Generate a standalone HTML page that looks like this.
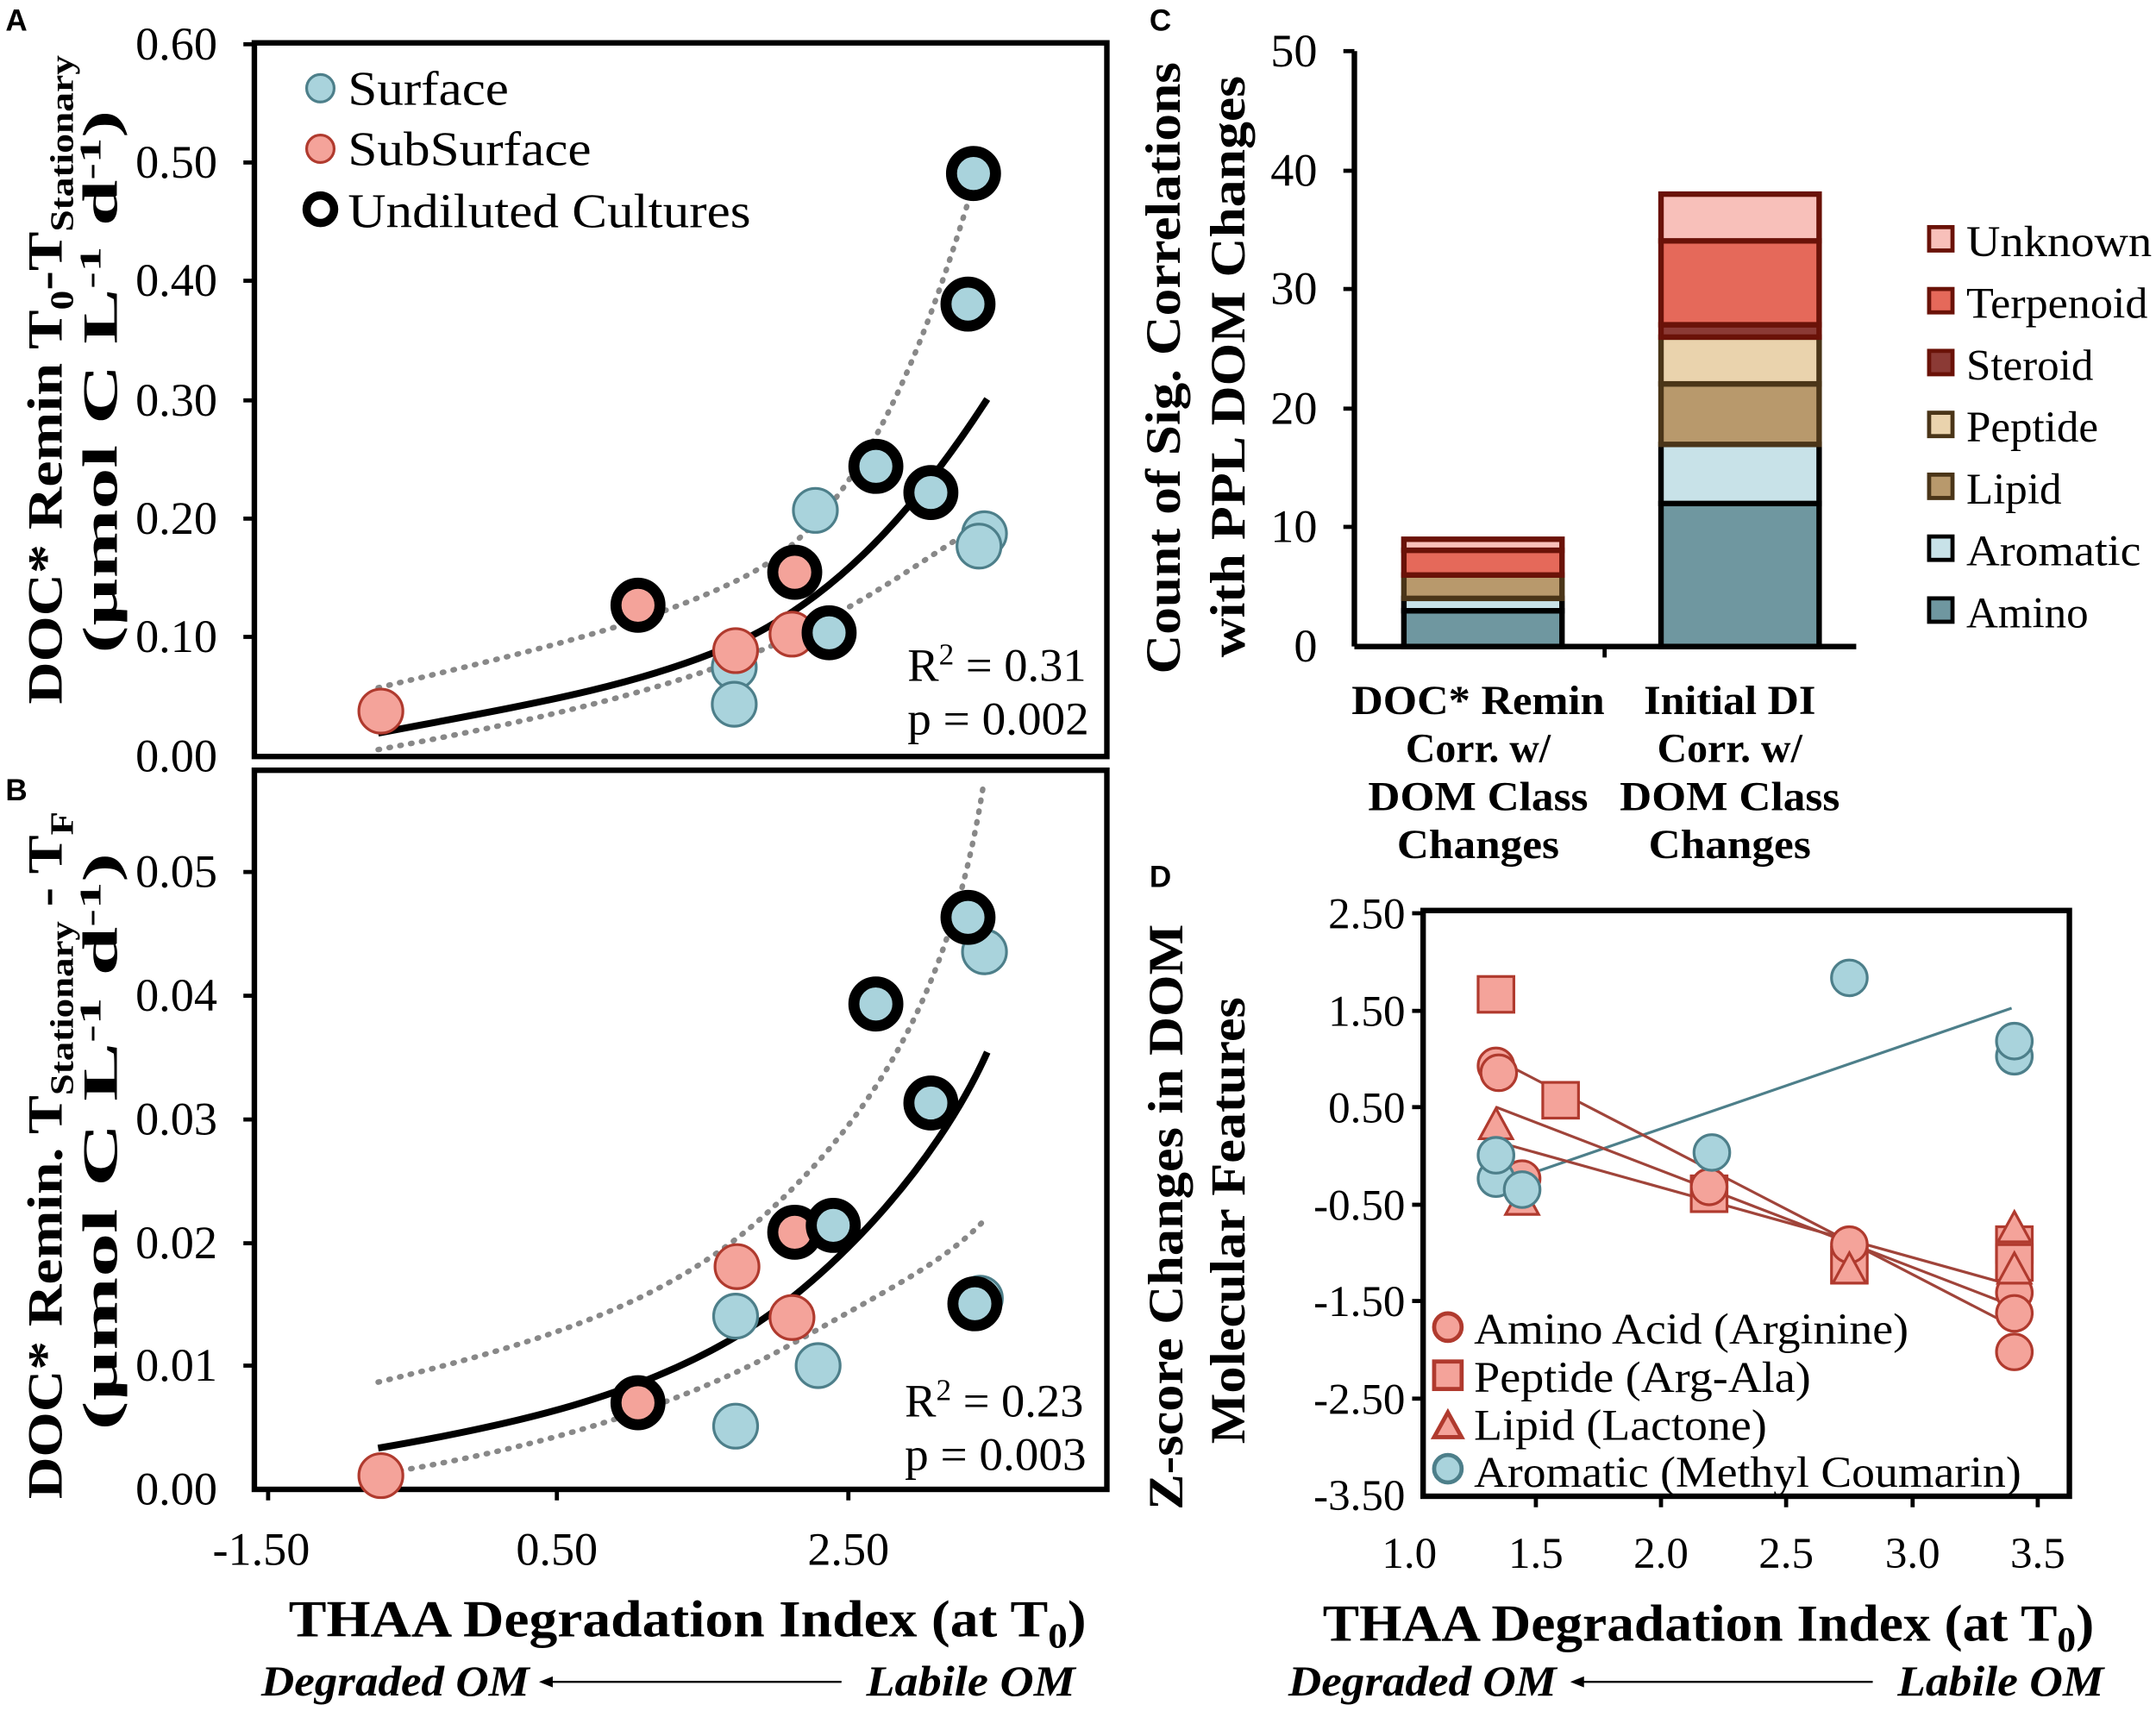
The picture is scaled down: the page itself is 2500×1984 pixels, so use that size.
<!DOCTYPE html>
<html><head><meta charset="utf-8"><style>html,body{margin:0;padding:0;background:#fff}svg{display:block}</style></head><body>
<svg width="2500" height="1984" viewBox="0 0 1568 1244" xmlns="http://www.w3.org/2000/svg" font-family="Liberation Serif, serif">
<rect width="1568" height="1244" fill="#fff"/>
<g font-family="Liberation Sans, sans-serif" font-weight="bold" font-size="22">
<text x="4" y="22">A</text><text x="4" y="582">B</text><text x="836" y="22">C</text><text x="836" y="645">D</text></g>

<rect x="185" y="31" width="620" height="519" fill="none" stroke="#000" stroke-width="4"/>
<rect x="185" y="560" width="620" height="523" fill="none" stroke="#000" stroke-width="4"/>
<g font-size="34" text-anchor="end">
<text x="158" y="43">0.60</text><text x="158" y="129">0.50</text><text x="158" y="215">0.40</text><text x="158" y="302">0.30</text><text x="158" y="388">0.20</text><text x="158" y="474">0.10</text><text x="158" y="561">0.00</text>
<text x="158" y="645">0.05</text><text x="158" y="735">0.04</text><text x="158" y="825">0.03</text><text x="158" y="915">0.02</text><text x="158" y="1004">0.01</text><text x="158" y="1094">0.00</text>
</g>
<g stroke="#000" stroke-width="3">
<line x1="177" y1="32" x2="185" y2="32"/><line x1="177" y1="118" x2="185" y2="118"/><line x1="177" y1="204" x2="185" y2="204"/><line x1="177" y1="291" x2="185" y2="291"/><line x1="177" y1="377" x2="185" y2="377"/><line x1="177" y1="463" x2="185" y2="463"/>
<line x1="177" y1="634" x2="185" y2="634"/><line x1="177" y1="724" x2="185" y2="724"/><line x1="177" y1="814" x2="185" y2="814"/><line x1="177" y1="904" x2="185" y2="904"/><line x1="177" y1="993" x2="185" y2="993"/>
<line x1="195" y1="1083" x2="195" y2="1091"/><line x1="405" y1="1083" x2="405" y2="1091"/><line x1="617" y1="1083" x2="617" y2="1091"/>
</g>
<g font-size="34" text-anchor="middle"><text x="190" y="1138">-1.50</text><text x="405" y="1138">0.50</text><text x="617" y="1138">2.50</text></g>
<text x="210" y="1190" font-size="38" font-weight="bold" textLength="580" lengthAdjust="spacingAndGlyphs">THAA Degradation Index (at T<tspan font-size="26" dy="8">0</tspan><tspan dy="-8">)</tspan></text>
<g font-size="31" font-weight="bold" font-style="italic"><text x="190" y="1233" textLength="195" lengthAdjust="spacingAndGlyphs">Degraded OM</text><text x="630" y="1233" textLength="152" lengthAdjust="spacingAndGlyphs">Labile OM</text></g>
<line x1="400" y1="1223" x2="612" y2="1223" stroke="#000" stroke-width="1.5"/><path d="M392 1223 l10 -4 v8z"/>

<g font-size="36" font-weight="bold">
<text transform="translate(45,512) rotate(-90)" textLength="472" lengthAdjust="spacingAndGlyphs">DOC* Remin T<tspan font-size="24" dy="8">0</tspan><tspan dy="-8">-T</tspan><tspan font-size="24" dy="8">Stationary</tspan></text>
<text transform="translate(85,475) rotate(-90)" textLength="395" lengthAdjust="spacingAndGlyphs">(µmol C L<tspan font-size="22" dy="-12">-1</tspan><tspan dy="12"> d</tspan><tspan font-size="22" dy="-12">-1</tspan><tspan dy="12">)</tspan></text>
<text transform="translate(45,1090) rotate(-90)" textLength="500" lengthAdjust="spacingAndGlyphs">DOC* Remin. T<tspan font-size="24" dy="8">Stationary</tspan><tspan dy="-8"> - T</tspan><tspan font-size="24" dy="8">F</tspan></text>
<text transform="translate(85,1040) rotate(-90)" textLength="420" lengthAdjust="spacingAndGlyphs">(µmol C L<tspan font-size="22" dy="-12">-1</tspan><tspan dy="12"> d</tspan><tspan font-size="22" dy="-12">-1</tspan><tspan dy="12">)</tspan></text>
</g>

<g fill="none" stroke="#888" stroke-width="4" stroke-dasharray="1 7" stroke-linecap="round">
<path d="M275 500 C380 475 470 455 540 420 S660 300 712 120"/>
<path d="M275 545 C400 522 490 500 560 470 S680 400 716 380"/>
<path d="M275 1005 C400 975 490 945 560 880 S690 730 715 572"/>
<path d="M275 1072 C400 1052 500 1020 580 975 S690 915 718 885"/>
</g>
<path d="M275 533 C380 513 460 500 530 470 S660 380 718 290" fill="none" stroke="#000" stroke-width="5"/>
<path d="M275 1053 C380 1035 460 1015 530 975 S680 850 718 765" fill="none" stroke="#000" stroke-width="5"/>

<g fill="#a9d3dc" stroke="#4d7f8a" stroke-width="2">
<circle cx="534" cy="485" r="16"/><circle cx="534" cy="512" r="16"/><circle cx="593" cy="371" r="16"/><circle cx="716" cy="388" r="16"/><circle cx="712" cy="397" r="16"/>
<circle cx="535" cy="957" r="16"/><circle cx="535" cy="1037" r="16"/><circle cx="595" cy="993" r="16"/><circle cx="716" cy="692" r="16"/><circle cx="713" cy="944" r="16"/>
</g>
<g fill="#f4a39a" stroke="#b03a2e" stroke-width="2">
<circle cx="277" cy="517" r="16"/><circle cx="535" cy="473" r="16"/><circle cx="576" cy="461" r="16"/>
<circle cx="277" cy="1073" r="16"/><circle cx="536" cy="921" r="16"/><circle cx="576" cy="958" r="16"/>
</g>
<g stroke="#000" stroke-width="8">
<circle cx="464" cy="440" r="16" fill="#f4a39a"/><circle cx="578" cy="416" r="16" fill="#f4a39a"/>
<circle cx="708" cy="126" r="16" fill="#a9d3dc"/><circle cx="704" cy="221" r="16" fill="#a9d3dc"/><circle cx="637" cy="339" r="16" fill="#a9d3dc"/><circle cx="677" cy="358" r="16" fill="#a9d3dc"/><circle cx="603" cy="460" r="16" fill="#a9d3dc"/>
<circle cx="464" cy="1020" r="16" fill="#f4a39a"/><circle cx="578" cy="896" r="16" fill="#f4a39a"/>
<circle cx="606" cy="891" r="16" fill="#a9d3dc"/><circle cx="637" cy="730" r="16" fill="#a9d3dc"/><circle cx="677" cy="802" r="16" fill="#a9d3dc"/><circle cx="704" cy="667" r="16" fill="#a9d3dc"/><circle cx="709" cy="948" r="16" fill="#a9d3dc"/>
</g>
<circle cx="233" cy="64" r="10" fill="#a9d3dc" stroke="#4d7f8a" stroke-width="2"/>
<circle cx="233" cy="108" r="10" fill="#f4a39a" stroke="#b03a2e" stroke-width="2"/>
<circle cx="233" cy="152" r="10" fill="#fff" stroke="#000" stroke-width="6"/>
<g font-size="35"><text x="253" y="76" textLength="117" lengthAdjust="spacingAndGlyphs">Surface</text><text x="253" y="120" textLength="177" lengthAdjust="spacingAndGlyphs">SubSurface</text><text x="253" y="165" textLength="293" lengthAdjust="spacingAndGlyphs">Undiluted Cultures</text></g>
<g font-size="34"><text x="660" y="495" textLength="130" lengthAdjust="spacingAndGlyphs">R<tspan font-size="22" dy="-12">2</tspan><tspan dy="12"> = 0.31</tspan></text><text x="660" y="534" textLength="132" lengthAdjust="spacingAndGlyphs">p = 0.002</text>
<text x="658" y="1030" textLength="130" lengthAdjust="spacingAndGlyphs">R<tspan font-size="22" dy="-12">2</tspan><tspan dy="12"> = 0.23</tspan></text><text x="658" y="1069" textLength="132" lengthAdjust="spacingAndGlyphs">p = 0.003</text></g>

<!-- Panel C -->
<g stroke="#000" stroke-width="4"><line x1="985" y1="37" x2="985" y2="470"/><line x1="985" y1="470" x2="1350" y2="470"/></g>
<g stroke="#000" stroke-width="3">
<line x1="977" y1="37" x2="985" y2="37"/><line x1="977" y1="124" x2="985" y2="124"/><line x1="977" y1="210" x2="985" y2="210"/><line x1="977" y1="297" x2="985" y2="297"/><line x1="977" y1="383" x2="985" y2="383"/><line x1="1167" y1="470" x2="1167" y2="478"/></g>
<g font-size="34" text-anchor="end"><text x="958" y="48">50</text><text x="958" y="135">40</text><text x="958" y="221">30</text><text x="958" y="308">20</text><text x="958" y="394">10</text><text x="958" y="481">0</text></g>
<g font-size="36" font-weight="bold"><text transform="translate(858,490) rotate(-90)" textLength="445" lengthAdjust="spacingAndGlyphs">Count of Sig. Correlations</text><text transform="translate(905,478) rotate(-90)" textLength="423" lengthAdjust="spacingAndGlyphs">with PPL DOM Changes</text></g>
<g stroke-width="4">
<rect x="1021" y="444" width="115" height="26" fill="#6f97a0" stroke="#000"/>
<rect x="1021" y="435" width="115" height="9" fill="#c8e2e8" stroke="#000"/>
<rect x="1021" y="418" width="115" height="17" fill="#b8996c" stroke="#4a3518"/>
<rect x="1021" y="400" width="115" height="18" fill="#e5695a" stroke="#6a1208"/>
<rect x="1021" y="392" width="115" height="8" fill="#f8c0ba" stroke="#6a1208"/>
<rect x="1208" y="366" width="115" height="104" fill="#6f97a0" stroke="#000"/>
<rect x="1208" y="323" width="115" height="43" fill="#c8e2e8" stroke="#000"/>
<rect x="1208" y="279" width="115" height="44" fill="#b8996c" stroke="#4a3518"/>
<rect x="1208" y="245" width="115" height="34" fill="#ead3ad" stroke="#4a3518"/>
<rect x="1208" y="236" width="115" height="9" fill="#8b3a35" stroke="#6a1208"/>
<rect x="1208" y="175" width="115" height="61" fill="#e5695a" stroke="#6a1208"/>
<rect x="1208" y="141" width="115" height="34" fill="#f8c0ba" stroke="#6a1208"/>
</g>
<g font-size="30" font-weight="bold" text-anchor="middle">
<text x="1075" y="519" textLength="184" lengthAdjust="spacingAndGlyphs">DOC* Remin</text><text x="1075" y="554">Corr. w/</text><text x="1075" y="589" textLength="160" lengthAdjust="spacingAndGlyphs">DOM Class</text><text x="1075" y="624" textLength="118" lengthAdjust="spacingAndGlyphs">Changes</text>
<text x="1258" y="519" textLength="125" lengthAdjust="spacingAndGlyphs">Initial DI</text><text x="1258" y="554">Corr. w/</text><text x="1258" y="589" textLength="160" lengthAdjust="spacingAndGlyphs">DOM Class</text><text x="1258" y="624" textLength="118" lengthAdjust="spacingAndGlyphs">Changes</text></g>
<g stroke-width="3">
<rect x="1403" y="165" width="17" height="17" fill="#f8c0ba" stroke="#6a1208"/>
<rect x="1403" y="210" width="17" height="17" fill="#e5695a" stroke="#6a1208"/>
<rect x="1403" y="255" width="17" height="17" fill="#8b3a35" stroke="#6a1208"/>
<rect x="1403" y="300" width="17" height="17" fill="#ead3ad" stroke="#4a3518"/>
<rect x="1403" y="345" width="17" height="17" fill="#b8996c" stroke="#4a3518"/>
<rect x="1403" y="390" width="17" height="17" fill="#c8e2e8" stroke="#000"/>
<rect x="1403" y="435" width="17" height="17" fill="#6f97a0" stroke="#000"/></g>
<g font-size="32"><text x="1430" y="186" textLength="135" lengthAdjust="spacingAndGlyphs">Unknown</text><text x="1430" y="231" textLength="132" lengthAdjust="spacingAndGlyphs">Terpenoid</text><text x="1430" y="276">Steroid</text><text x="1430" y="321">Peptide</text><text x="1430" y="366">Lipid</text><text x="1430" y="411" textLength="127" lengthAdjust="spacingAndGlyphs">Aromatic</text><text x="1430" y="456">Amino</text></g>

<!-- Panel D -->
<rect x="1035" y="662" width="470" height="426" fill="none" stroke="#000" stroke-width="4"/>
<g font-size="32" text-anchor="end"><text x="1022" y="675">2.50</text><text x="1022" y="746">1.50</text><text x="1022" y="816">0.50</text><text x="1022" y="887">-0.50</text><text x="1022" y="957">-1.50</text><text x="1022" y="1028">-2.50</text><text x="1022" y="1098">-3.50</text></g>
<g stroke="#000" stroke-width="3">
<line x1="1027" y1="664" x2="1035" y2="664"/><line x1="1027" y1="735" x2="1035" y2="735"/><line x1="1027" y1="805" x2="1035" y2="805"/><line x1="1027" y1="876" x2="1035" y2="876"/><line x1="1027" y1="946" x2="1035" y2="946"/><line x1="1027" y1="1017" x2="1035" y2="1017"/>
<line x1="1117" y1="1088" x2="1117" y2="1096"/><line x1="1208" y1="1088" x2="1208" y2="1096"/><line x1="1299" y1="1088" x2="1299" y2="1096"/><line x1="1391" y1="1088" x2="1391" y2="1096"/><line x1="1482" y1="1088" x2="1482" y2="1096"/></g>
<g font-size="32" text-anchor="middle"><text x="1025" y="1140">1.0</text><text x="1117" y="1140">1.5</text><text x="1208" y="1140">2.0</text><text x="1299" y="1140">2.5</text><text x="1391" y="1140">3.0</text><text x="1482" y="1140">3.5</text></g>
<text x="962" y="1193" font-size="38" font-weight="bold" textLength="561" lengthAdjust="spacingAndGlyphs">THAA Degradation Index (at T<tspan font-size="26" dy="8">0</tspan><tspan dy="-8">)</tspan></text>
<g font-size="31" font-weight="bold" font-style="italic"><text x="937" y="1233" textLength="195" lengthAdjust="spacingAndGlyphs">Degraded OM</text><text x="1380" y="1233" textLength="150" lengthAdjust="spacingAndGlyphs">Labile OM</text></g>
<line x1="1150" y1="1223" x2="1362" y2="1223" stroke="#000" stroke-width="1.5"/><path d="M1142 1223 l10 -4 v8z"/>
<g font-size="36" font-weight="bold"><text transform="translate(860,1098) rotate(-90)" textLength="426" lengthAdjust="spacingAndGlyphs">Z-score Changes in DOM</text><text transform="translate(905,1050) rotate(-90)" textLength="325" lengthAdjust="spacingAndGlyphs">Molecular Features</text></g>
<g stroke-width="2">
<line x1="1088" y1="862" x2="1463" y2="733" stroke="#4d7f8a"/>
<line x1="1088" y1="770" x2="1465" y2="965" stroke="#a0443a"/>
<line x1="1088" y1="805" x2="1465" y2="950" stroke="#a0443a"/>
<line x1="1088" y1="830" x2="1465" y2="935" stroke="#a0443a"/></g>
<g fill="#f4a39a" stroke="#b03a2e" stroke-width="2">
<rect x="1075" y="710" width="26" height="26"/><rect x="1122" y="787" width="26" height="26"/><rect x="1230" y="855" width="26" height="26"/><rect x="1332" y="907" width="26" height="26"/><rect x="1452" y="892" width="26" height="26"/><rect x="1452" y="905" width="26" height="26"/>
<circle cx="1088" cy="775" r="13"/><circle cx="1090" cy="780" r="13"/><circle cx="1107" cy="857" r="13"/><circle cx="1243" cy="863" r="13"/><circle cx="1345" cy="905" r="13"/><circle cx="1465" cy="940" r="13"/><circle cx="1465" cy="955" r="13"/><circle cx="1465" cy="983" r="13"/>
<path d="M1088 806 l12 22 h-24z"/><path d="M1107 861 l12 22 h-24z"/><path d="M1345 911 l12 22 h-24z"/><path d="M1465 881 l12 22 h-24z"/><path d="M1465 911 l12 22 h-24z"/>
</g>
<g fill="#a9d3dc" stroke="#4d7f8a" stroke-width="2">
<circle cx="1088" cy="857" r="13"/><circle cx="1088" cy="840" r="13"/><circle cx="1107" cy="865" r="13"/><circle cx="1245" cy="838" r="13"/><circle cx="1345" cy="711" r="13"/><circle cx="1465" cy="768" r="13"/><circle cx="1465" cy="757" r="13"/></g>
<g stroke-width="3">
<circle cx="1053" cy="965" r="10" fill="#f4a39a" stroke="#b03a2e"/>
<rect x="1043" y="990" width="20" height="20" fill="#f4a39a" stroke="#b03a2e"/>
<path d="M1053 1027 l10 18 h-20z" fill="#f4a39a" stroke="#b03a2e"/>
<circle cx="1053" cy="1068" r="10" fill="#a9d3dc" stroke="#4d7f8a"/></g>
<g font-size="32"><text x="1072" y="977" textLength="316" lengthAdjust="spacingAndGlyphs">Amino Acid (Arginine)</text><text x="1072" y="1012" textLength="245" lengthAdjust="spacingAndGlyphs">Peptide (Arg-Ala)</text><text x="1072" y="1047" textLength="213" lengthAdjust="spacingAndGlyphs">Lipid (Lactone)</text><text x="1072" y="1081" textLength="398" lengthAdjust="spacingAndGlyphs">Aromatic (Methyl Coumarin)</text></g>
</svg>
</body></html>
